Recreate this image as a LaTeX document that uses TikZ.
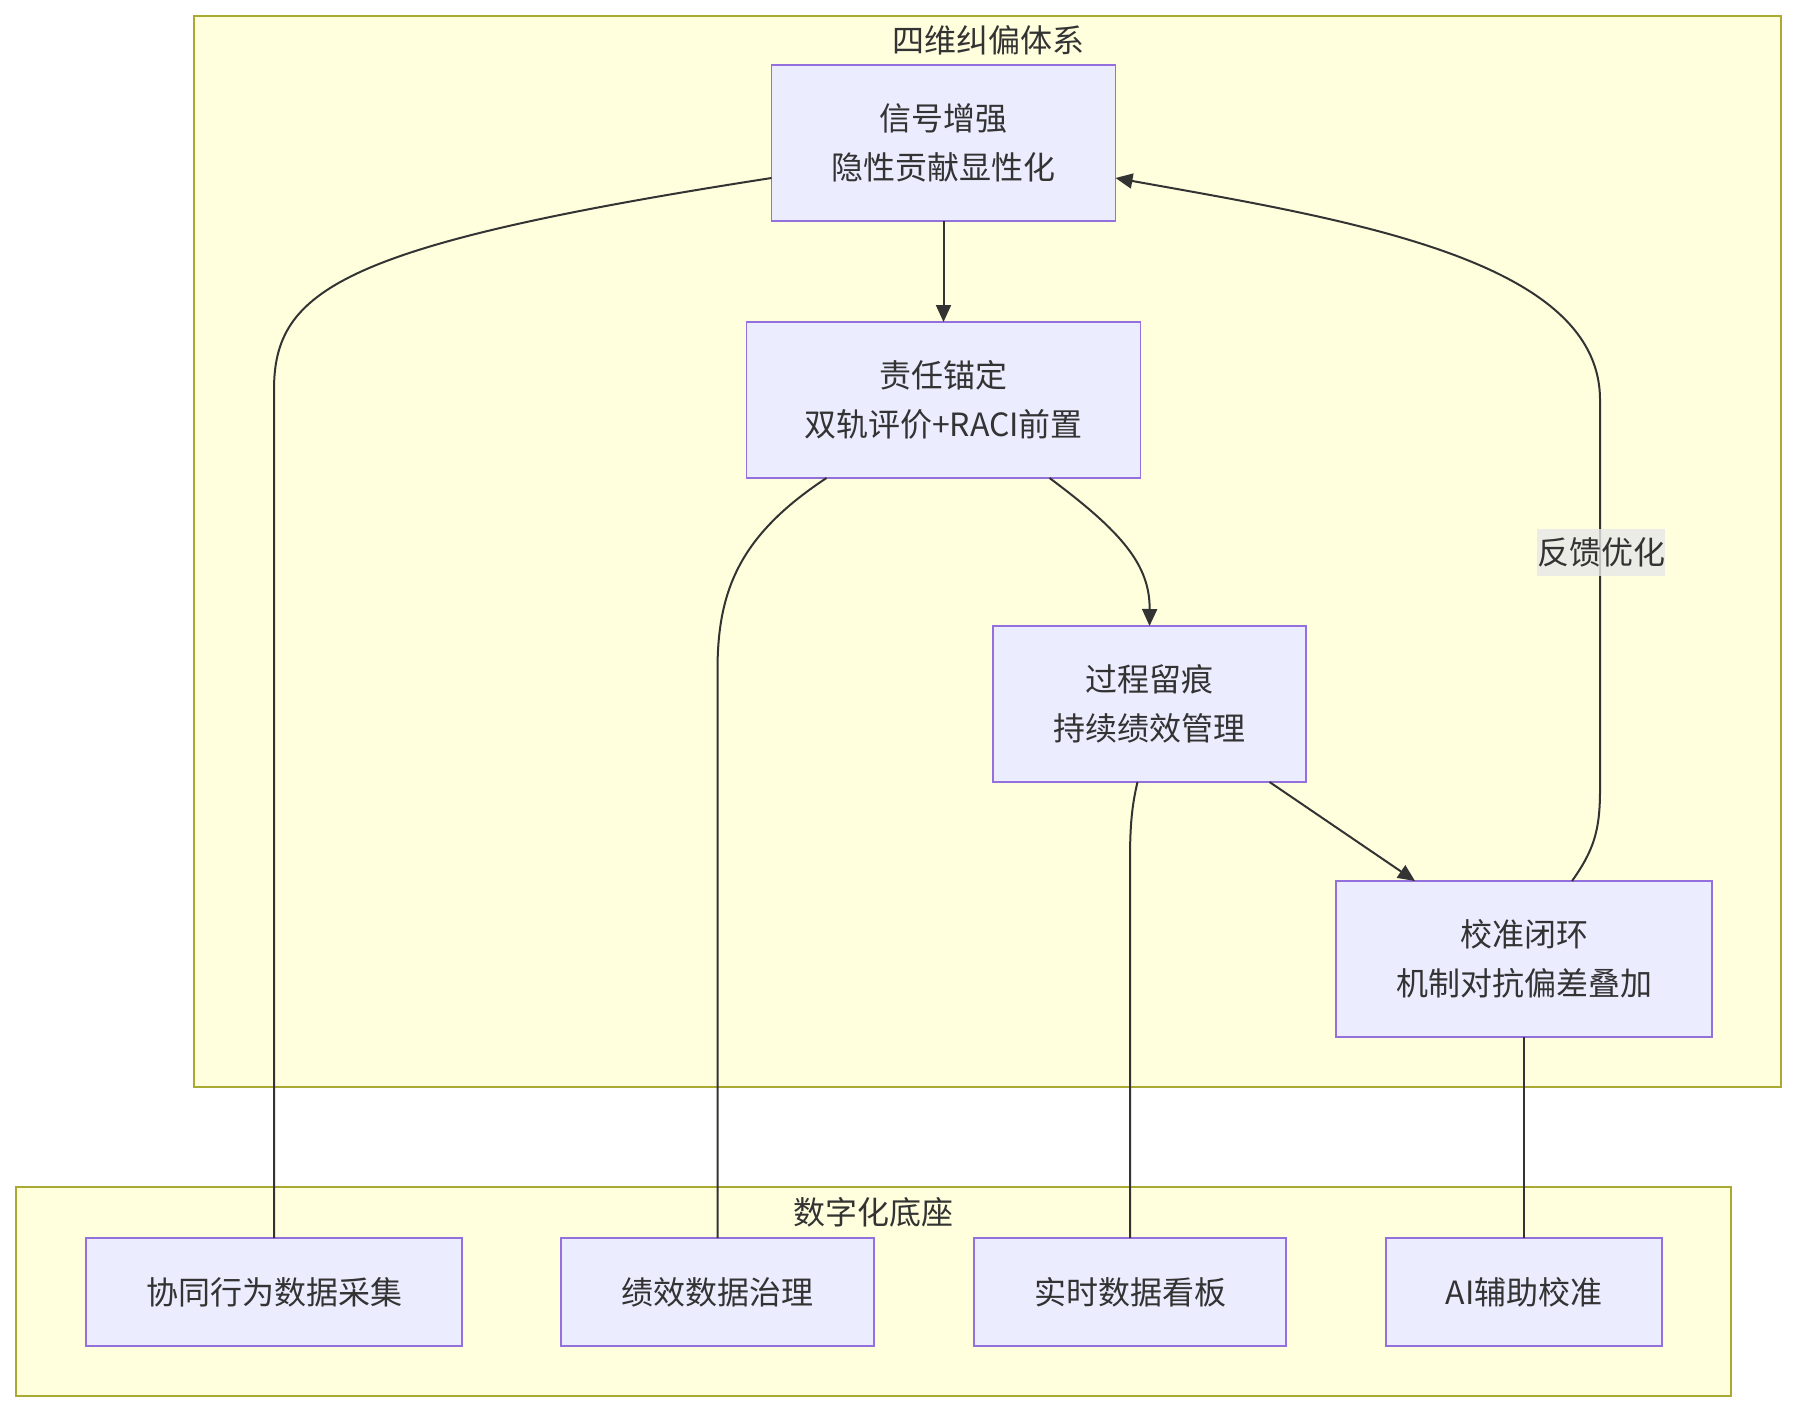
\documentclass[tikz,border=0pt]{standalone}
\usepackage{fontspec}
\setmainfont{Noto Sans CJK SC}
\usetikzlibrary{arrows.meta,calc}
\definecolor{clfill}{HTML}{FFFFDE}
\definecolor{clline}{HTML}{AAAA33}
\definecolor{ndfill}{HTML}{ECECFF}
\definecolor{ndline}{HTML}{9370DB}
\definecolor{txt}{HTML}{333333}
\definecolor{lblbg}{HTML}{E8E8E8}
\begin{document}
\begin{tikzpicture}[x=0.5pt,y=-0.5pt,
  cluster/.style={draw=clline, fill=clfill, line width=1pt, anchor=north west, inner sep=0, outer sep=0},
  ctitle/.style={text=txt, font=\fontsize{16pt}{20pt}\selectfont, inner sep=0},
  box/.style={draw=ndline, fill=ndfill, line width=0.9pt, text=txt, align=center,
    font=\fontsize{16pt}{24.5pt}\selectfont, inner sep=0, outer sep=0, minimum height=78pt},
  dbox/.style={box, minimum height=54pt},
  edge/.style={draw=txt, line width=1pt},
  arr/.style={edge, -{Triangle[length=8.5pt,width=7.5pt]}},
  lbl/.style={fill=lblbg, fill opacity=0.8, text opacity=1, text=txt, inner xsep=0, inner ysep=0,
    minimum height=23.5pt, font=\fontsize{16pt}{20pt}\selectfont}
]
\useasboundingbox (0,0) rectangle (1797,1412);
\fill[white] (0,0) rectangle (1797,1412);
% clusters
\node[cluster, minimum width=793.5pt, minimum height=535.5pt] (grpA) at (194,16) {};
\node[ctitle] (grpAt) at (988,40) {四维纠偏体系};
\node[cluster, minimum width=857.5pt, minimum height=104.5pt] (grpB) at (16,1187) {};
\node[ctitle] (grpBt) at (873.5,1212) {数字化底座};
% nodes
\node[box, minimum width=172pt] (S) at (943.5,143) {信号增强\\隐性贡献显性化};
\node[box, minimum width=197pt] (R) at (943.5,400) {责任锚定\\双轨评价+RACI前置};
\node[box, minimum width=156.5pt] (P) at (1149.5,704) {过程留痕\\持续绩效管理};
\node[box, minimum width=188pt] (C) at (1524,959) {校准闭环\\机制对抗偏差叠加};
\node[dbox, minimum width=188pt] (D1) at (274,1292) {协同行为数据采集};
\node[dbox, minimum width=156.5pt] (D2) at (717.5,1292) {绩效数据治理};
\node[dbox, minimum width=156pt] (D3) at (1130,1292) {实时数据看板};
\node[dbox, minimum width=138pt] (D4) at (1524,1292) {AI辅助校准};
% main arrows
\draw[arr] (S.south) -- (R.north);
\draw[arr] ($(R.south)+(106,0)$) .. controls (1122,532) and (1150,565) .. (P.north);
\draw[arr] ($(P.south)+(120,0)$) -- ($(C.north)+(-109,0)$);
\coordinate (fbA) at (1600,790);
\coordinate (fbB) at (1600,400);
\draw[arr] ($(C.north)+(48,0)$) .. controls (1594,850) and (1600,830) .. (fbA) -- (fbB)
  .. controls (1600,260) and (1350,220) .. ($(S.east)+(0,35)$);
\node[lbl] (fbl) at (1601,552) {反馈优化};
% links to base
\coordinate (l1) at (274,390);
\draw[edge] ($(S.west)+(0,35)$) .. controls (340,245) and (274,290) .. (l1) -- (D1.north);
\coordinate (l2) at (717.5,670);
\draw[edge] ($(R.south)+(-117,0)$) .. controls (740,535) and (717.5,590) .. (l2) -- (D2.north);
\coordinate (l3) at (1130,860);
\draw[edge] ($(P.south)+(-12,0)$) .. controls (1132,805) and (1130,825) .. (l3) -- (D3.north);
\draw[edge] (C.south) -- (D4.north);
\end{tikzpicture}
\end{document}
